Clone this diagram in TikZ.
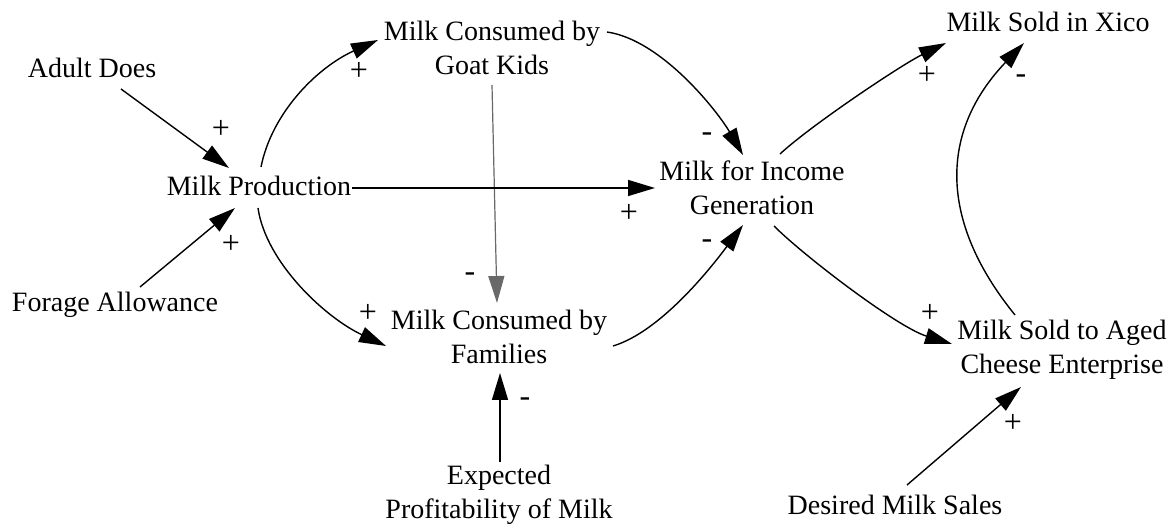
\documentclass[tikz,border=0pt]{standalone}
\usepackage{fontspec}
\setmainfont{Liberation Serif}
\usetikzlibrary{arrows.meta}
\definecolor{inkgray}{RGB}{105,105,105}
\begin{document}
\begin{tikzpicture}[x=1pt,y=-1pt,
  var/.style={font=\fontsize{28}{34}\selectfont, align=center, inner sep=0pt},
  link/.style={line width=1.4pt, -{Triangle[length=27pt,width=16pt]}},
  pol/.style={font=\fontsize{32}{32}\selectfont, inner sep=0pt}]
\useasboundingbox (0,0) rectangle (1171,529);

% variables
\node[var] (ad)   at (92,68)    {Adult Does};
\node[var] (mp)   at (259,186)  {Milk Production};
\node[var] (fa)   at (115,305)  {Forage Allowance};
\node[var] (gk)   at (492,48)   {Milk Consumed by\\Goat Kids};
\node[var] (fam)  at (499,337)  {Milk Consumed by\\Families};
\node[var] (exp)  at (499,495)  {Expected\\Profitability of Milk};
\node[var] (inc)  at (752,188)  {Milk for Income\\Generation};
\node[var] (xico) at (1048,22)  {Milk Sold in Xico};
\node[var] (aged) at (1062,350) {Milk Sold to Aged\\Cheese Enterprise};
\node[var] (dms)  at (895,505)  {Desired Milk Sales};

% causal links
\draw[link, draw=inkgray, fill=inkgray, line width=1.2pt]
  ([shift={(0,37)}]gk.center) -- ([shift={(-2,-34)}]fam.center);
\draw[link] ([shift={(29,21)}]ad.center) -- ([shift={(-30,-18)}]mp.center);
\draw[link] ([shift={(25,-18)}]fa.center) -- ([shift={(-24,22)}]mp.center);
\draw[link] ([shift={(2,-19)}]mp.center)
  .. controls +(11,-55) and +(-60,27) .. ([shift={(-114,-8)}]gk.center);
\draw[link] ([shift={(-1,22)}]mp.center)
  .. controls +(8,55) and +(-60,-28) .. ([shift={(-113,9)}]fam.center);
\draw[link] ([shift={(93,2)}]mp.center) -- ([shift={(-97,0)}]inc.center);
\draw[link] ([shift={(115,-16)}]gk.center)
  .. controls +(55,8) and +(-25,-43) .. ([shift={(-9,-33)}]inc.center);
\draw[link] ([shift={(114,9)}]fam.center)
  .. controls +(50,-15) and +(-27,36) .. ([shift={(-9,37)}]inc.center);
\draw[link] ([shift={(1,-33)}]exp.center) -- ([shift={(1,36)}]fam.center);
\draw[link] ([shift={(28,-34)}]inc.center)
  .. controls +(30,-28) and +(-45,22) .. ([shift={(-102,21)}]xico.center);
\draw[link] ([shift={(22,38)}]inc.center)
  .. controls +(30,30) and +(-55,-17) .. ([shift={(-110,-6)}]aged.center);
\draw[link] ([shift={(-47,-35)}]aged.center)
  .. controls +(-77,-95) and +(-84,88) .. ([shift={(-24,21)}]xico.center);
\draw[link] ([shift={(12,-20)}]dms.center) -- ([shift={(-41,37)}]aged.center);

% polarities
\node[pol] (p1)  at (221,129) {+};
\node[pol] (p2)  at (231,244) {+};
\node[pol] (p3)  at (359,71)  {+};
\node[pol] (p4)  at (368,313) {+};
\node[pol] (p5)  at (470,277) {-};
\node[pol] (p6)  at (629,213) {+};
\node[pol] (p7)  at (707,137) {-};
\node[pol] (p8)  at (707,244) {-};
\node[pol] (p9)  at (525,402) {-};
\node[pol] (p10) at (927,75)  {+};
\node[pol] (p11) at (1021,79) {-};
\node[pol] (p12) at (930,313) {+};
\node[pol] (p13) at (1013,423) {+};
\end{tikzpicture}
\end{document}
